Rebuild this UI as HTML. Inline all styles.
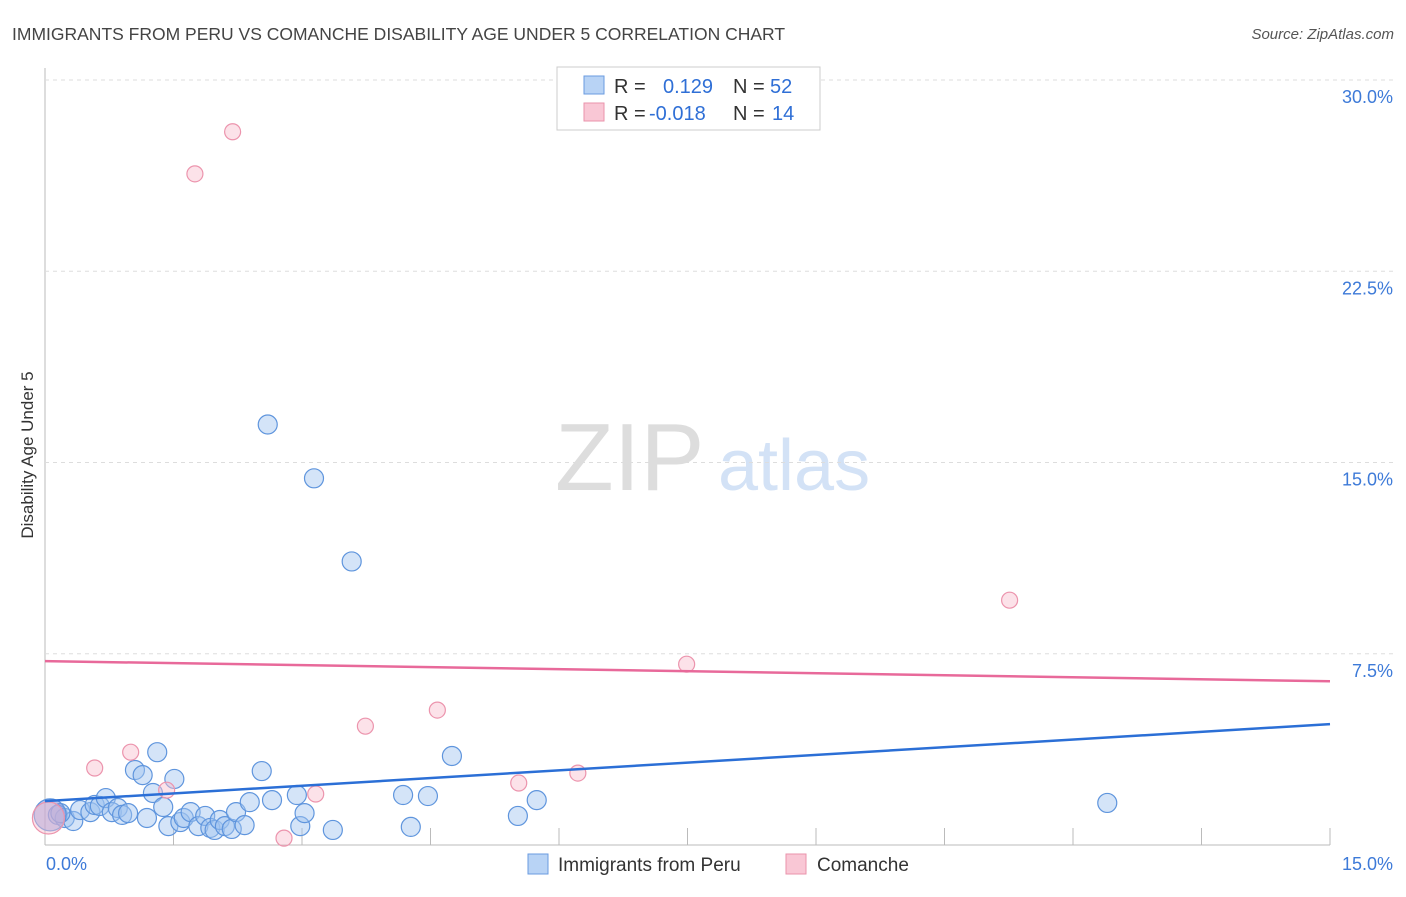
<!DOCTYPE html>
<html><head><meta charset="utf-8"><style>
body{margin:0;background:#fff;font-family:"Liberation Sans",sans-serif;}
svg text{font-family:"Liberation Sans",sans-serif;}
</style></head><body>
<svg id="c" width="1406" height="892" xmlns="http://www.w3.org/2000/svg">
<text x="12" y="40" font-size="17.5" fill="#444">IMMIGRANTS FROM PERU VS COMANCHE DISABILITY AGE UNDER 5 CORRELATION CHART</text>
<text x="1394" y="39" font-size="15" fill="#555" font-style="italic" text-anchor="end">Source: ZipAtlas.com</text>
<text x="555" y="490" font-size="96" fill="#ddd" font-family="Liberation Serif,serif">ZIP</text>
<text x="718" y="490" font-size="72" fill="#d3e2f6">atlas</text>
<text transform="translate(33,455) rotate(-90)" font-size="17" fill="#333" text-anchor="middle">Disability Age Under 5</text>
<g id="grid"></g><g id="pts"></g><g id="lines"></g>
<g>
<rect x="557" y="67" width="263" height="63" fill="#fff" stroke="#ccc"/>
<rect x="584" y="76" width="20" height="18" fill="#b8d3f5" stroke="#6a9be0"/>
<rect x="584" y="103" width="20" height="18" fill="#f9c7d5" stroke="#ea93ab"/>
<text x="614" y="93" font-size="20" fill="#333">R = <tspan fill="#2f6fd6" x="663">0.129</tspan><tspan x="733" fill="#333">N = </tspan><tspan fill="#2f6fd6" x="770">52</tspan></text>
<text x="614" y="120" font-size="20" fill="#333">R = <tspan fill="#2f6fd6" x="649">-0.018</tspan><tspan x="733" fill="#333">N = </tspan><tspan fill="#2f6fd6" x="772">14</tspan></text>
</g>
<g>
<rect x="528" y="854" width="20" height="20" fill="#b8d3f5" stroke="#6a9be0"/>
<text x="558" y="871" font-size="19" fill="#333">Immigrants from Peru</text>
<rect x="786" y="854" width="20" height="20" fill="#f9c7d5" stroke="#ea93ab"/>
<text x="817" y="871" font-size="19" fill="#333">Comanche</text>
</g>
</svg>
<script>
const yTicks=[7.5,15,22.5,30];
const yTickLabels=["7.5%","15.0%","22.5%","30.0%"];
const xTickLabels=["0.0%","15.0%"];
const blueX=[0.15,0.23,0.33,0.18,0.41,0.53,0.58,0.64,0.71,0.78,0.85,0.90,0.97,1.05,1.14,1.19,1.26,1.31,1.38,1.44,1.51,1.58,1.62,1.70,1.79,1.87,1.93,1.98,2.04,2.10,2.18,2.23,2.33,2.39,2.53,2.60,2.65,2.94,2.98,3.03,3.14,3.36,3.58,4.18,4.27,4.47,4.75,5.52,5.74,12.40,0.06];
const blueY=[1.18,1.06,0.94,1.25,1.37,1.29,1.57,1.53,1.84,1.29,1.45,1.18,1.25,2.94,2.74,1.06,2.04,3.64,1.49,0.74,2.59,0.90,1.06,1.29,0.74,1.14,0.67,0.59,0.98,0.74,0.63,1.29,0.78,1.68,2.90,16.49,1.76,1.96,0.74,1.25,14.38,0.59,11.12,1.96,0.71,1.92,3.49,1.14,1.76,1.65,1.18];
const pinkX=[2.19,1.75,11.26,7.49,4.58,3.74,1.00,0.58,1.42,3.16,5.53,6.22,2.79,0.04];
const pinkY=[27.97,26.32,9.60,7.09,5.29,4.66,3.64,3.02,2.15,2.00,2.43,2.82,0.27,1.06];
const blueTrend=[1.72,4.74];
const pinkTrend=[7.21,6.42];
const NS="http://www.w3.org/2000/svg";
const X=v=>45+v*(1285/15), Y=v=>845-v*(765/30);
function mk(t,a,p){const e=document.createElementNS(NS,t);for(const k in a)e.setAttribute(k,a[k]);p.appendChild(e);return e;}
const g=document.getElementById('grid');
const ax=mk('line',{x1:45,y1:68,x2:45,y2:845,stroke:'#bbb'},g);


const bx=mk('line',{x1:45,y1:845,x2:1330,y2:845,stroke:'#bbb'},g);


yTicks.forEach((t,i)=>{
 const l=mk('line',{x1:45,y1:Y(t),x2:1394,y2:Y(t),stroke:'#ddd','stroke-dasharray':'4,4'},g);
 
 
 const tx=mk('text',{x:1393,y:Y(t)+23,'font-size':18,fill:'#3d7ad8','text-anchor':'end'},g);
 tx.textContent=yTickLabels[i];
 
 
});
for(let i=1;i<=10;i++){const v=i*1.5;
 const l=mk('line',{x1:X(v),y1:828,x2:X(v),y2:845,stroke:'#bbb'},g);
 
 }
[[0,'start',46],[15,'end',1393]].forEach((d,i)=>{
 const tx=mk('text',{x:d[2],y:870,'font-size':18,fill:'#3d7ad8','text-anchor':d[1]},g);
 tx.textContent=xTickLabels[i];
 
 });
const p=document.getElementById('pts');
blueX.forEach((x,i)=>{const big=i===blueX.length-1;
 const c=mk('circle',{cx:X(x),cy:Y(blueY[i]),r:big?16:9.5,fill:big?'rgba(120,140,220,0.5)':'rgba(160,196,240,0.45)',stroke:'#5f95dd','stroke-width':1.2},p);
 
 });
pinkX.forEach((x,i)=>{const big=i===pinkX.length-1;
 const c=mk('circle',{cx:X(x),cy:Y(pinkY[i]),r:big?16:8,fill:'rgba(248,190,206,0.45)',stroke:'#ec94ad','stroke-width':1.2},p);
 
 });
const L=document.getElementById('lines');
const b=mk('line',{x1:X(0),y1:Y(blueTrend[0]),x2:X(15),y2:Y(blueTrend[1]),stroke:'#2b6fd6','stroke-width':2.5},L);


const pk=mk('line',{x1:X(0),y1:Y(pinkTrend[0]),x2:X(15),y2:Y(pinkTrend[1]),stroke:'#e8699a','stroke-width':2.5},L);


</script>
</body></html>
